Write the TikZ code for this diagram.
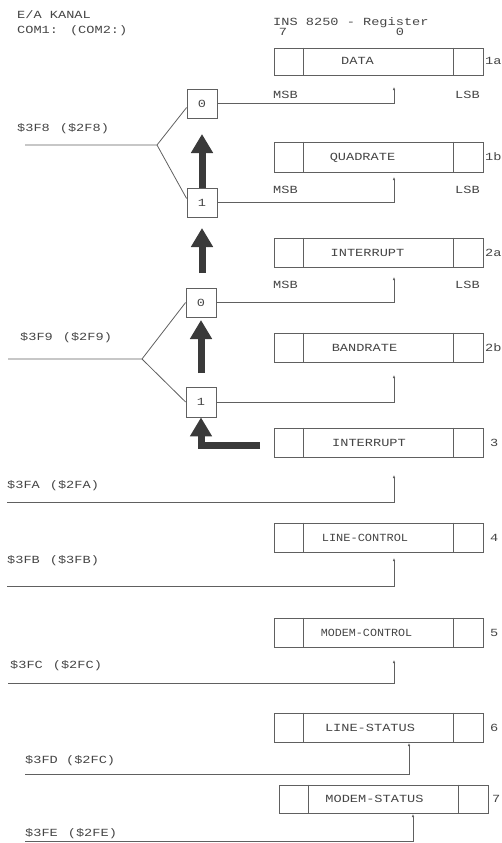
\documentclass[tikz,border=0pt]{standalone}
\usepackage{fontspec}
\newfontfamily\tw[FakeStretch=1.25]{Liberation Mono}
\usetikzlibrary{arrows.meta}
\definecolor{ink}{HTML}{454545}
\definecolor{linec}{HTML}{606060}
\definecolor{arrc}{HTML}{3A3A3A}
\tikzset{
  txt/.style={font=\tw\fontsize{10.9}{12}\selectfont, text=ink, inner sep=0pt},
  reg/.style={draw=linec, line width=0.8pt, minimum width=209pt, inner sep=0pt},
  selbox/.style={draw=linec, line width=0.8pt, minimum width=30pt, minimum height=29pt, inner sep=0pt, txt},
  wire/.style={draw=linec, line width=0.8pt},
  feed/.style={wire, -{Latex[length=3pt,width=2.5pt]}},
  bigarrow/.style={draw=arrc, line width=7pt, -{Triangle[width=21pt,length=19pt]}},
}
\begin{document}
\begin{tikzpicture}[x=1pt,y=-1pt]
\useasboundingbox (0,0) rectangle (501,843);

% headings
\node[txt, anchor=base west] (h1) at (17,19) {E/A KANAL};
\node[txt, anchor=base west] (h2) at (17,34) {COM1:\hspace{12pt}(COM2:)};
\node[txt, anchor=base west] (h3) at (273,25.5) {INS 8250 - Register};
\node[txt, anchor=base] (b7) at (283,36) {7};
\node[txt, anchor=base] (b0) at (400,36) {0};

% registers
\foreach \nm/\cx/\cy/\h/\tx/\t/\lb/\lx in {
  rA/378.5/61.5/27/357.5/DATA/1a/485,
  rB/378.5/157/30/362.5/QUADRATE/1b/485,
  rC/378.5/252.5/29/367.5/INTERRUPT/2a/485,
  rD/378.5/347.5/29/364.5/BANDRATE/2b/485,
  rE/378.5/442.5/29/369/INTERRUPT/3/490,
  rF/378.5/537.5/29/365/{\scalebox{0.88}[1]{LINE-CONTROL}}/4/490,
  rG/378.5/632.5/29/366.5/{\scalebox{0.86}[1]{MODEM-CONTROL}}/5/490,
  rH/378.5/727.5/29/370/LINE-STATUS/6/490,
  rI/383.5/799/28/374.5/MODEM-STATUS/7/492}
{
  \node[reg, minimum height=\h pt] (\nm) at (\cx,\cy) {};
  \draw[wire] ([xshift=30pt]\nm.north west) -- ([xshift=30pt]\nm.south west);
  \draw[wire] ([xshift=-30pt]\nm.north east) -- ([xshift=-30pt]\nm.south east);
  \node[txt, anchor=base] (\nm t) at (\tx,\cy+3.5) {\t};
  \node[txt, anchor=base west] (\nm l) at (\lx,\cy+3.5) {\lb};
}

% MSB / LSB
\foreach \i/\y in {1/98.5,2/193.5,3/288.5}{
  \node[txt, anchor=base west] (msb\i) at (273,\y) {MSB};
  \node[txt, anchor=base west] (lsb\i) at (455,\y) {LSB};
}

% selector boxes
\node[selbox] (s0) at (202,103.5) {0};
\node[selbox] (s1) at (202,202.5) {1};
\node[selbox] (s2) at (201,302.5) {0};
\node[selbox, minimum height=30pt] (s3) at (201,402) {1};

% address labels
\node[txt, anchor=base west] (a0) at (17,131.5) {\$3F8\hspace{10pt}(\$2F8)};
\node[txt, anchor=base west] (a1) at (20,340.5) {\$3F9\hspace{10pt}(\$2F9)};
\node[txt, anchor=base west] (a2) at (7,488.5) {\$3FA\hspace{10pt}(\$2FA)};
\node[txt, anchor=base west] (a3) at (7,563.5) {\$3FB\hspace{10pt}(\$3FB)};
\node[txt, anchor=base west] (a4) at (10,668.5) {\$3FC\hspace{10pt}(\$2FC)};
\node[txt, anchor=base west] (a5) at (25,763.5) {\$3FD (\$2FC)};
\node[txt, anchor=base west] (a6) at (25,836.5) {\$3FE\hspace{10pt}(\$2FE)};

% address wires
\coordinate (in0) at (25,145);
\coordinate (j0) at (157,145);
\draw[wire] (in0) -- (j0) -- ([yshift=-4pt]s0.west);
\draw[wire] (j0) -- ([yshift=4pt]s1.west);
\coordinate (in1) at (8,359);
\coordinate (j1) at (142,359);
\draw[wire] (in1) -- (j1) -- (s2.west);
\draw[wire] (j1) -- (s3.west);

\coordinate (e0) at (394,87);
\coordinate (e1) at (394,177);
\coordinate (e2) at (394,277);
\coordinate (e3) at (394,375);
\draw[feed] (s0.east) -| (e0);
\draw[feed] (s1.east) -| (e1);
\draw[feed] (s2.east) -| (e2);
\draw[feed] (s3.east) -| (e3);

\coordinate (in2) at (7,502);   \coordinate (e4) at (394,475);
\coordinate (in3) at (7,586);   \coordinate (e5) at (394,558);
\coordinate (in4) at (8,683);   \coordinate (e6) at (394,660);
\coordinate (in5) at (25,774);  \coordinate (e7) at (409,743);
\coordinate (in6) at (25,841);  \coordinate (e8) at (413,814);
\draw[feed] (in2) -| (e4);
\draw[feed] (in3) -| (e5);
\draw[feed] (in4) -| (e6);
\draw[feed] (in5) -| (e7);
\draw[feed] (in6) -| (e8);

% thick arrows
\coordinate (t1) at (202,134);
\draw[bigarrow] (s1.north) -- (t1);
\coordinate (b2) at (202,273);
\coordinate (t2) at (202,228);
\draw[bigarrow] (b2) -- (t2);
\coordinate (b3) at (201,373);
\coordinate (t3) at (201,320);
\draw[bigarrow] (b3) -- (t3);
\coordinate (b4) at (260,445);
\draw[bigarrow] (b4) -| (s3.south);
\end{tikzpicture}
\end{document}
